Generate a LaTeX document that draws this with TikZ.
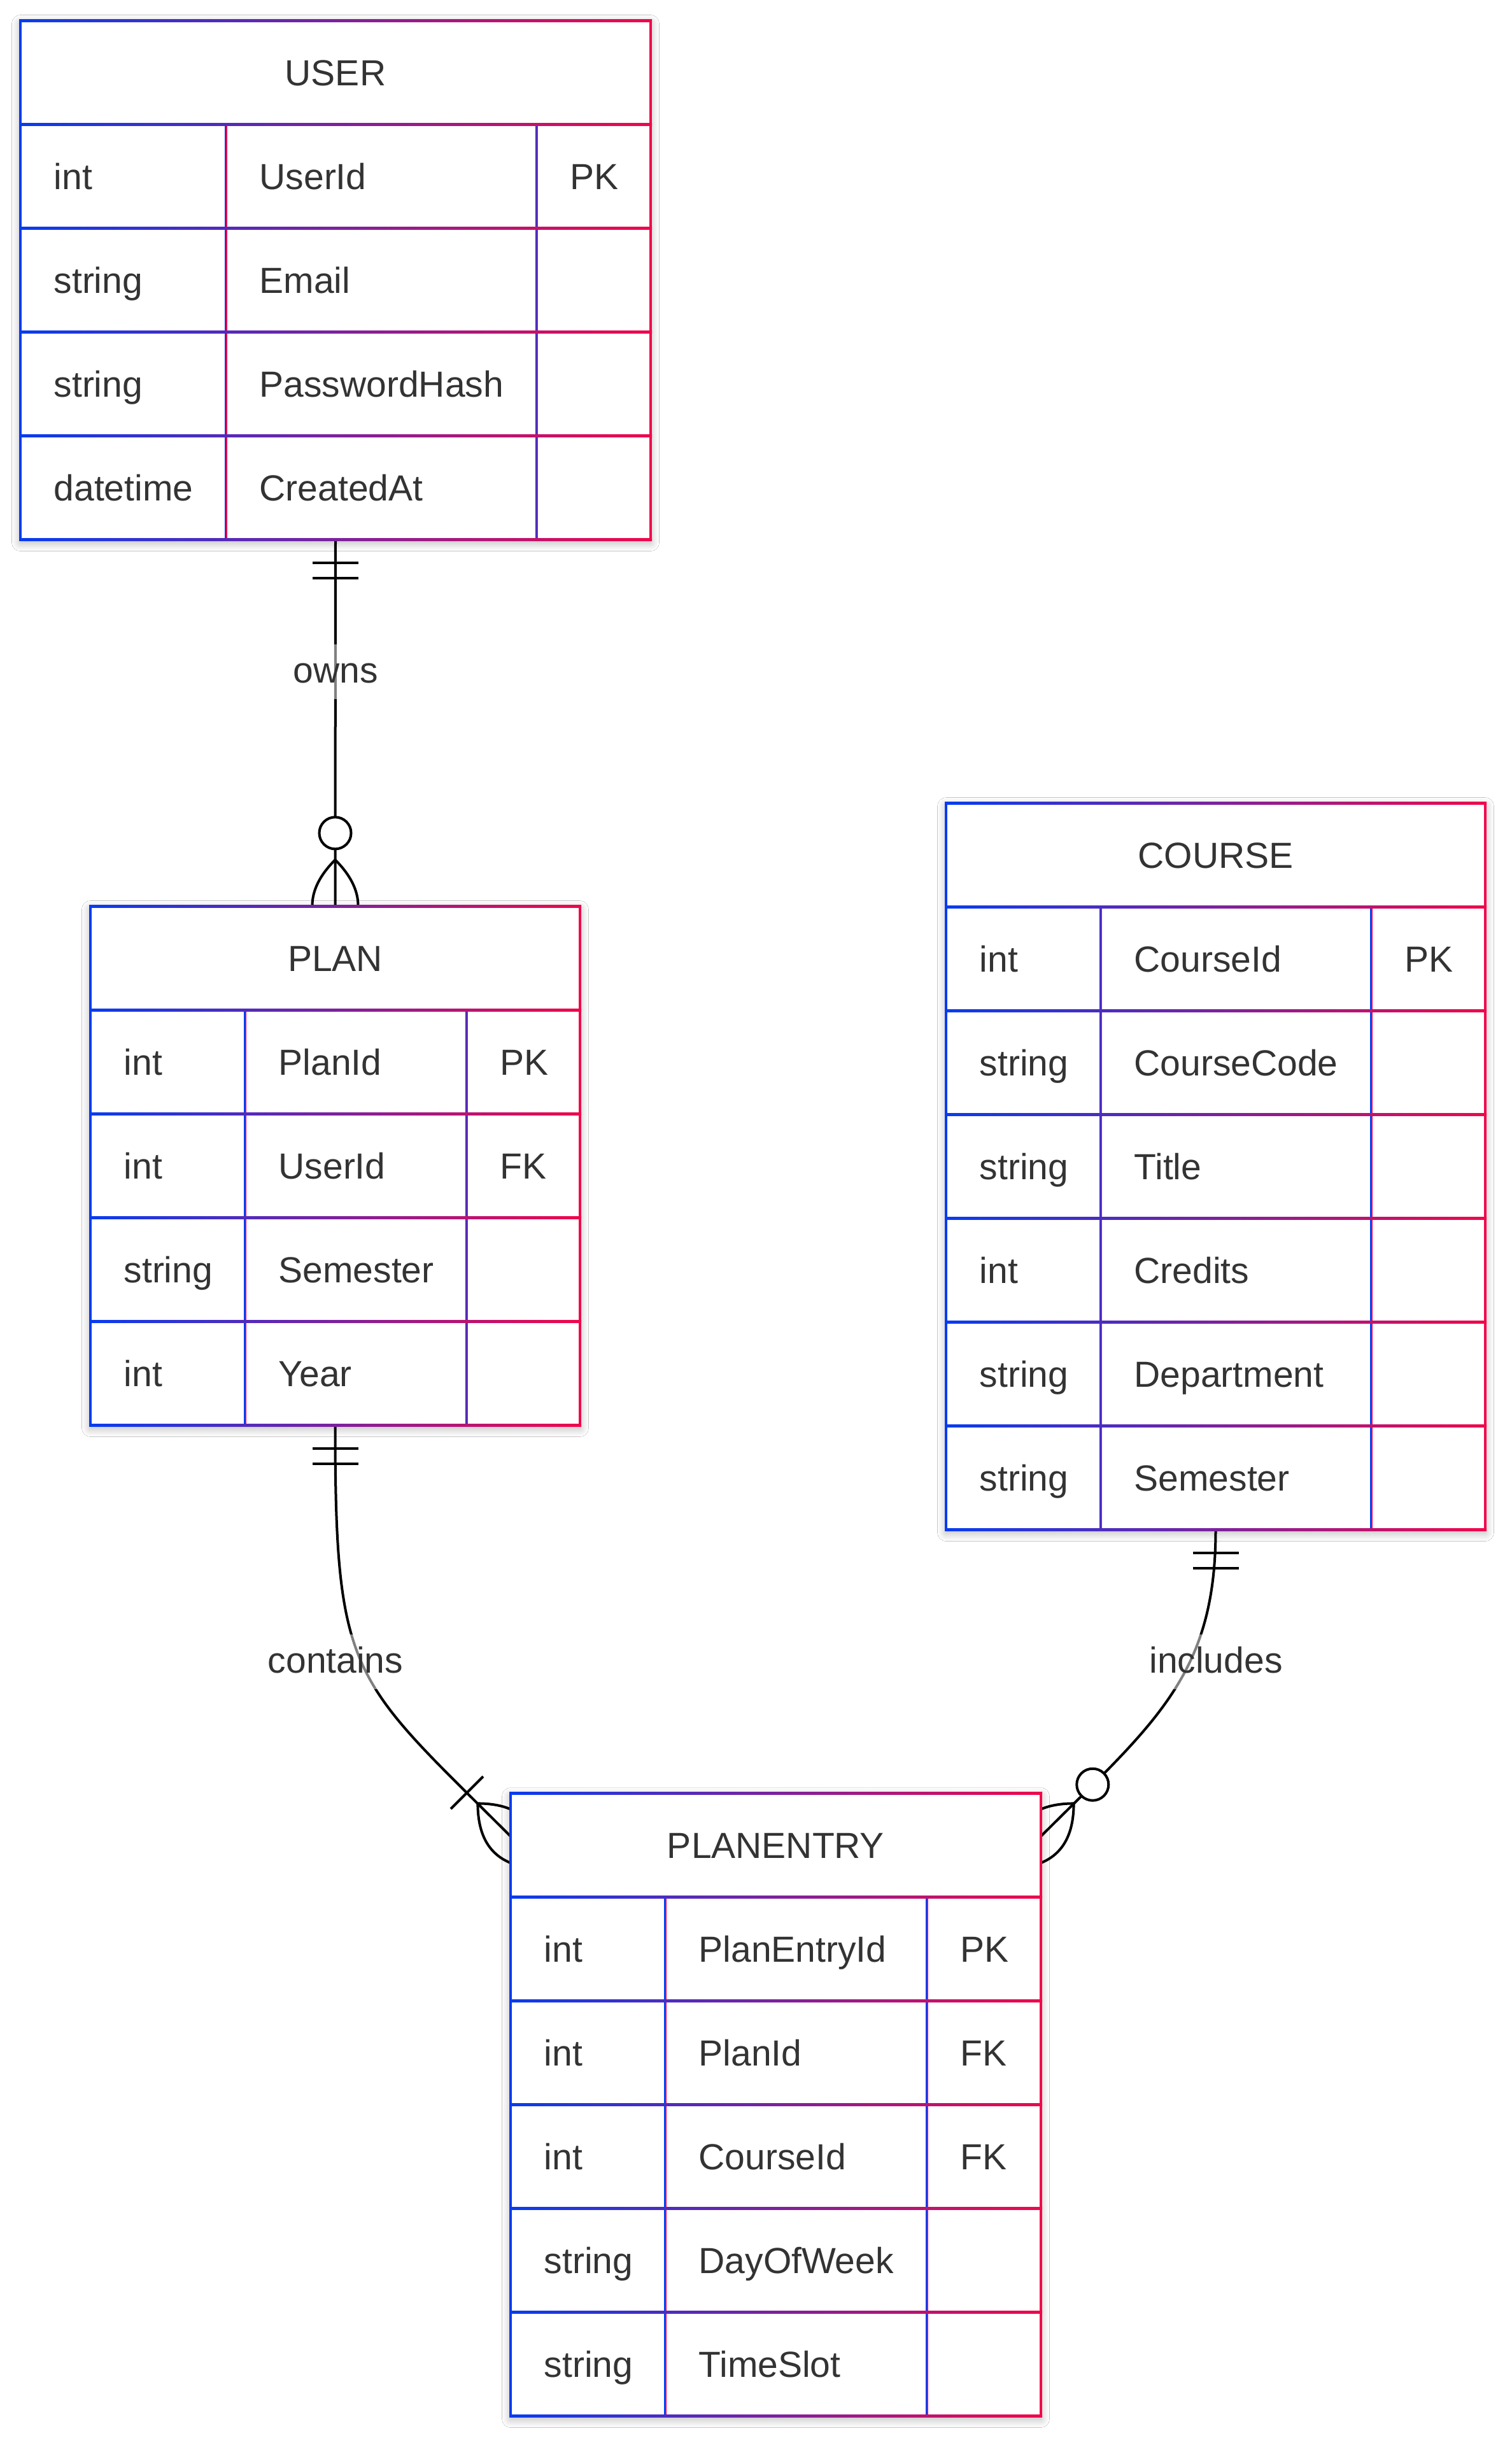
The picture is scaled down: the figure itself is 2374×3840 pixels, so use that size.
\documentclass[tikz,border=0pt]{standalone}
\usepackage{fontspec}
\setmainfont{Liberation Sans}
\usetikzlibrary{fit,calc,shadows.blur}
\definecolor{erblue}{RGB}{8,60,240}
\definecolor{erred}{RGB}{240,8,75}
\definecolor{ertxt}{HTML}{333333}
\tikzset{
  ertext/.style={text=ertxt, inner sep=0pt, font=\fontsize{17.1pt}{20pt}\selectfont},
  conn/.style={draw=black, line width=1.2pt},
  lbl/.style={text=ertxt, font=\fontsize{17.1pt}{20pt}\selectfont, fill=white, fill opacity=0.5, text opacity=1, inner sep=0pt, text height=18pt, text depth=7.8pt},
  erbg/.style={fill=white, blur shadow={shadow xshift=0pt, shadow yshift=-1.5pt, shadow blur radius=4pt, shadow opacity=30, shadow blur steps=10}},
}
% name, xl, ytop, xr, nrows
\newcommand{\ershadow}[5]{%
  \pgfmathsetmacro{\erbot}{#3+163*(#5+1)}%
  \path[erbg] (#2,#3) rectangle (#4,\erbot);
  \node[fit={(#2,#3) (#4,\erbot)}, inner sep=0pt] (#1) {};
}
% prefix, xl, xa, xb, xr, ytop, nrows, title, rows
\newcommand{\ertable}[9]{%
  \pgfmathsetmacro{\erbot}{#6+163*(#7+1)}%
  \pgfmathsetmacro{\erhd}{#6+163}%
  \pgfmathtruncatemacro{\ernn}{#7+1}%
  \fill[white] (#2,#6) rectangle (#5,\erbot);
  \node[ertext, anchor=base] (#1-title) at ({(#2+#5)/2},{#6+102}) {#8};
  \foreach \ty/\nm/\ky [count=\i] in {#9} {
    \node[ertext, anchor=base west] (#1-r\i-a) at ({#2+52},{#6+163*\i+102}) {\ty};
    \node[ertext, anchor=base west] (#1-r\i-b) at ({#3+52},{#6+163*\i+102}) {\nm};
    \node[ertext, anchor=base west] (#1-r\i-c) at ({#4+52},{#6+163*\i+102}) {\ky};
  }
  \fill[erblue] ({#3-2},\erhd) rectangle (#3,\erbot);
  \fill[erred] (#3,\erhd) rectangle ({#3+2},\erbot);
  \fill[erblue] ({#4-2},\erhd) rectangle (#4,\erbot);
  \fill[erred] (#4,\erhd) rectangle ({#4+2},\erbot);
  \fill[erblue] ({#2-2},{#6-2}) rectangle ({#2+2},{\erbot+2});
  \fill[erred] ({#5-2},{#6-2}) rectangle ({#5+2},{\erbot+2});
  \foreach \hk in {0,...,\ernn} {
    \shade[left color=erblue, right color=erred] ({#2-2},{#6+163*\hk-2}) rectangle ({#5+2},{#6+163*\hk+2});
  }
}
% markers: coordinate, angle of forward direction
\newcommand{\mkbars}[2]{%
  \begin{scope}[shift={(#1)}, rotate=#2]
    \draw[conn] (36,-36) -- (36,36) (60,-36) -- (60,36);
  \end{scope}}
\newcommand{\mkzeromany}[2]{%
  \begin{scope}[shift={(#1)}, rotate=#2]
    \draw[conn] (-72,0) .. controls (-24,48) and (24,48) .. (72,0) .. controls (24,-48) and (-24,-48) .. (-72,0);
    \draw[conn, fill=white] (-114,0) circle[radius=25];
  \end{scope}}
\newcommand{\mkonemany}[2]{%
  \begin{scope}[shift={(#1)}, rotate=#2]
    \draw[conn] (-72,0) .. controls (-24,48) and (24,48) .. (72,0) .. controls (24,-48) and (-24,-48) .. (-72,0);
    \draw[conn] (-96,-36) -- (-96,36);
  \end{scope}}

\begin{document}
\begin{tikzpicture}[x=0.3pt, y=-0.3pt]
\fill[white, use as bounding box] (0,0) rectangle (2374,3840);

% backgrounds with shadows, and named nodes
\ershadow{user}{32}{32}{1022}{4}
\ershadow{plan}{142}{1423}{911}{4}
\ershadow{course}{1486}{1261}{2333}{6}
\ershadow{planentry}{802}{2816}{1635}{5}

\coordinate (peL) at ($(planentry.north west)+(0,68)$);
\coordinate (peR) at ($(planentry.north east)+(0,68)$);

% connectors
\draw[conn] (user.south) -- (plan.north);
\draw[conn] (plan.south) .. controls +(0,400) and +(-247.5,-247.5) .. (peL);
\draw[conn] (course.south) .. controls +(0,230) and +(176.8,-176.8) .. (peR);

% markers
\mkbars{user.south}{-90}
\mkzeromany{plan.north}{-90}
\mkbars{plan.south}{-90}
\mkonemany{peL}{-45}
\mkbars{course.south}{-90}
\mkzeromany{peR}{-135}

% labels
\node[lbl] (lowns) at (527,1055) {owns};
\node[lbl] (lcontains) at (527,2610) {contains};
\node[lbl] (lincludes) at (1910,2610) {includes};

% tables
\ertable{u}{32}{355}{843}{1022}{32}{4}{USER}{int/UserId/PK, string/Email/{}, string/PasswordHash/{}, datetime/CreatedAt/{}}
\ertable{p}{142}{385}{733}{911}{1423}{4}{PLAN}{int/PlanId/PK, int/UserId/FK, string/Semester/{}, int/Year/{}}
\ertable{c}{1486}{1729}{2154}{2333}{1261}{6}{COURSE}{int/CourseId/PK, string/CourseCode/{}, string/Title/{}, int/Credits/{}, string/Department/{}, string/Semester/{}}
\ertable{e}{802}{1045}{1456}{1635}{2816}{5}{PLANENTRY}{int/PlanEntryId/PK, int/PlanId/FK, int/CourseId/FK, string/DayOfWeek/{}, string/TimeSlot/{}}
\end{tikzpicture}
\end{document}
